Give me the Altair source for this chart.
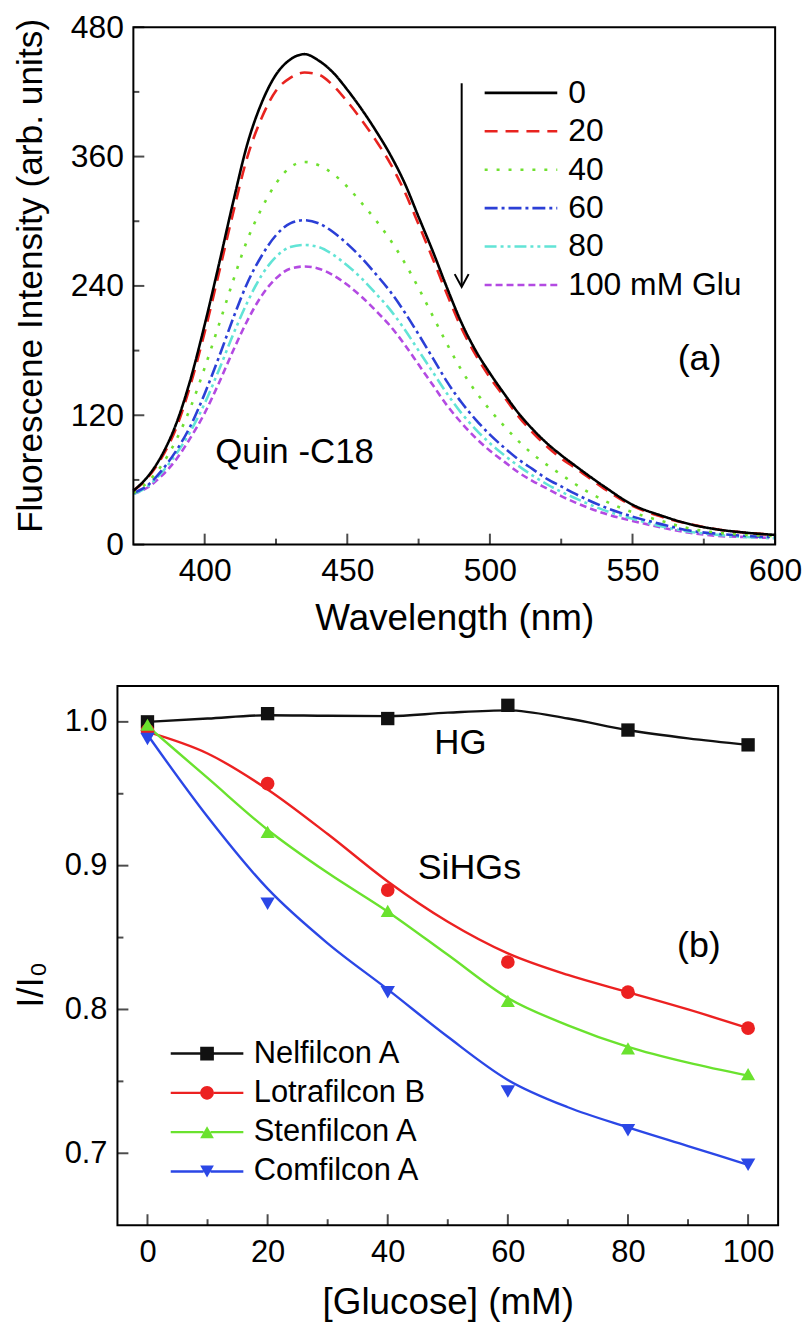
import altair as alt
import pandas as pd

FONT = "Liberation Sans"

# ===================== panel (a): emission spectra =====================
wavelength = [375, 380, 385, 390, 395, 400, 405, 410, 415, 420, 425, 430, 435,
              440, 445, 450, 455, 460, 465, 470, 475, 480, 485, 490, 495, 500,
              505, 510, 515, 520, 525, 530, 540, 550, 560, 570, 580, 590, 600]
glu_series = ["0", "20", "40", "60", "80", "100 mM Glu"]
intensity_0mM = [50, 63, 83, 112, 153, 204, 260, 318, 372, 410, 436, 450, 455,
                 449, 438, 422, 404, 384, 362, 336, 304, 272, 238, 206, 180, 159,
                 140, 122, 107, 94, 83, 73, 54, 37, 27, 19, 14, 11, 9]
intensity_20mM = [50, 62, 81, 108, 148, 197, 252, 308, 360, 396, 421, 433, 438,
                  436, 426, 411, 394, 375, 354, 328, 297, 265, 232, 201, 176, 155,
                  137, 119, 104, 91, 80, 71, 52, 36, 26, 19, 14, 11, 9]
intensity_40mM = [48, 58, 74, 97, 127, 164, 204, 245, 283, 312, 335, 350, 355,
                  352, 344, 332, 317, 301, 283, 262, 238, 212, 186, 162, 142, 125,
                  110, 96, 84, 74, 65, 56, 41, 30, 22, 15, 11, 9, 8]
intensity_60mM = [48, 55, 69, 87, 110, 140, 174, 210, 243, 268, 287, 298, 301,
                  298, 290, 279, 266, 251, 235, 216, 195, 173, 151, 132, 116, 102,
                  90, 79, 70, 61, 54, 47, 35, 26, 19, 13, 10, 8, 7]
intensity_80mM = [47, 54, 67, 84, 105, 131, 162, 195, 225, 250, 267, 276, 278,
                  276, 269, 259, 247, 233, 218, 200, 180, 160, 140, 122, 107, 94,
                  83, 73, 64, 56, 49, 43, 32, 24, 17, 12, 9, 7, 6]
intensity_100mM = [47, 53, 64, 79, 99, 122, 150, 180, 208, 231, 247, 256, 258,
                   256, 250, 241, 230, 217, 203, 186, 167, 148, 129, 113, 99, 87,
                   77, 67, 59, 52, 45, 39, 29, 22, 16, 11, 8, 7, 6]
glu_colors = ["#000000", "#e8231f", "#6fe030", "#2b3fd6", "#62e4d6", "#b34ae2"]
glu_dashes = [[1, 0], [13, 8], [3, 9], [13, 4, 3, 4], [12, 4, 3, 4, 3, 4], [7, 4]]

a_x_major = [400, 450, 500, 550, 600]
a_x_minor = [425, 475, 525, 575]
a_y_major = [0, 120, 240, 360, 480]
a_y_minor = [60, 180, 300, 420]

# ===================== panel (b): quenching ratio =====================
glucose_mM = [0, 20, 40, 60, 80, 100]
lens_series = ["Nelfilcon A", "Lotrafilcon B", "Stenfilcon A", "Comfilcon A"]
ratio_nelfilcon = [1.000, 1.0057, 1.0023, 1.0115, 0.9943, 0.9840]
ratio_lotrafilcon = [0.994, 0.957, 0.883, 0.833, 0.812, 0.787]
ratio_stenfilcon = [0.998, 0.9235, 0.8685, 0.806, 0.773, 0.755]
ratio_comfilcon = [0.988, 0.8735, 0.812, 0.743, 0.716, 0.692]

glucose_fit_mM = [0, 10, 20, 30, 40, 50, 60, 70, 80, 90, 100]
fit_nelfilcon = [1.000, 1.0023, 1.0046, 1.0042, 1.0040, 1.0064, 1.0080, 1.0023, 0.9943, 0.9885, 0.9840]
fit_lotrafilcon = [0.993, 0.978, 0.953, 0.922, 0.889, 0.861, 0.839, 0.824, 0.812, 0.800, 0.787]
fit_stenfilcon = [0.997, 0.961, 0.925, 0.895, 0.868, 0.838, 0.808, 0.789, 0.774, 0.763, 0.754]
fit_comfilcon = [0.991, 0.934, 0.884, 0.846, 0.814, 0.781, 0.751, 0.732, 0.718, 0.705, 0.692]
lens_colors = ["#111111", "#ec2121", "#6ae22e", "#2b47e6"]
lens_shapes = ["square", "circle", "triangle-up", "triangle-down"]
lens_sizes = [180, 210, 260, 260]

b_x_major = [0, 20, 40, 60, 80, 100]
b_x_minor = [10, 30, 50, 70, 90]
b_y_major = [0.7, 0.8, 0.9, 1.0]
b_y_minor = [0.75, 0.85, 0.95]

# ---------------- tables ----------------
spectra_rows = []
for name, vals in reversed(list(zip(glu_series, [intensity_0mM, intensity_20mM, intensity_40mM,
                                                   intensity_60mM, intensity_80mM, intensity_100mM]))):
    for w, v in zip(wavelength, vals):
        spectra_rows.append({"wl": w, "I": v, "glu": name})
spectra = pd.DataFrame(spectra_rows)

point_rows, fit_rows = [], []
for name, pts, fit in zip(lens_series,
                          [ratio_nelfilcon, ratio_lotrafilcon, ratio_stenfilcon, ratio_comfilcon],
                          [fit_nelfilcon, fit_lotrafilcon, fit_stenfilcon, fit_comfilcon]):
    for g, r in zip(glucose_mM, pts):
        point_rows.append({"g": g, "r": r, "lens": name})
    for g, r in zip(glucose_fit_mM, fit):
        fit_rows.append({"g": g, "r": r, "lens": name})
points = pd.DataFrame(point_rows)
fits = pd.DataFrame(fit_rows)
one = pd.DataFrame({"k": [0]})

# ---------------- axes ----------------
ax_xa = alt.Axis(values=a_x_major, title="Wavelength (nm)", ticks=False, domain=False, grid=False,
                 labelFontSize=32, titleFontSize=37, labelPadding=11, titlePadding=14,
                 labelFlush=False, labelOverlap=False)
ax_ya = alt.Axis(values=a_y_major, title="Fluorescene Intensity (arb. units)", ticks=False,
                 domain=False, grid=False, labelFontSize=32, titleFontSize=35.5, labelPadding=10,
                 labelFlush=False, labelOverlap=False, titleX=-92, titleY=249.5,
                 titleBaseline="alphabetic", titleAlign="center", titleAngle=270)
ax_xb = alt.Axis(values=b_x_major, title="[Glucose] (mM)", ticks=False, domain=False, grid=False,
                 labelFontSize=31, titleFontSize=37, labelPadding=12, titlePadding=18,
                 labelFlush=False, labelOverlap=False)
ax_yb = alt.Axis(values=b_y_major, format=".1f", title="I/I₀", ticks=False, domain=False,
                 grid=False, offset=16, labelFontSize=31, titleFontSize=37, labelPadding=10.5,
                 labelFlush=False, labelOverlap=False, titleX=-75.3, titleY=300,
                 titleBaseline="alphabetic", titleAlign="center", titleAngle=270)


def xticks(vals, y0, length, ax, ay):
    return alt.Chart(pd.DataFrame({"v": vals})).mark_tick(
        orient="vertical", size=length, thickness=2, color="black", yOffset=-length / 2
    ).encode(x=alt.X("v:Q", axis=ax), y=alt.YDatum(y0, axis=ay))


def yticks(vals, x0, length, ax, ay):
    return alt.Chart(pd.DataFrame({"v": vals})).mark_tick(
        orient="horizontal", size=length, thickness=2, color="black", xOffset=length / 2
    ).encode(y=alt.Y("v:Q", axis=ay), x=alt.XDatum(x0, axis=ax))


def frame(x0, x1, y0, y1, ax, ay):
    return alt.Chart(one).mark_rect(fillOpacity=0, stroke="black", strokeWidth=2).encode(
        x=alt.XDatum(x0, axis=ax), x2=alt.X2Datum(x1),
        y=alt.YDatum(y0, axis=ay), y2=alt.Y2Datum(y1))


def label(text, x, y, size, ax, ay):
    return alt.Chart(one).mark_text(font=FONT, fontSize=size, align="center",
                                    baseline="middle", color="black").encode(
        x=alt.XDatum(x, axis=ax), y=alt.YDatum(y, axis=ay), text=alt.value(text))


# ---------------- panel (a) ----------------
xa = alt.Scale(domain=[375, 600], nice=False, zero=False)
ya = alt.Scale(domain=[0, 480], nice=False, zero=False)

legend_a = alt.Legend(title=None, orient="none", legendX=396, legendY=50,
                      symbolType="M-4.2,0H1", symbolSize=788, symbolStrokeWidth=2.6,
                      labelFontSize=32, labelFont=FONT, labelColor="black",
                      labelOffset=9, rowPadding=6.6, padding=0, labelLimit=400)

lines_a = alt.Chart(spectra).mark_line(strokeWidth=2.6, interpolate="monotone").encode(
    x=alt.X("wl:Q", scale=xa, axis=ax_xa),
    y=alt.Y("I:Q", scale=ya, axis=ax_ya),
    color=alt.Color("glu:N", scale=alt.Scale(domain=glu_series, range=glu_colors), legend=legend_a),
    strokeDash=alt.StrokeDash("glu:N", scale=alt.Scale(domain=glu_series, range=glu_dashes),
                              legend=legend_a),
)

arrow_a = alt.Chart(one).mark_rule(strokeWidth=2, color="black").encode(
    x=alt.XDatum(490.1, axis=ax_xa), y=alt.YDatum(428, axis=ax_ya), y2=alt.Y2Datum(240))
arrow_head = alt.Chart(one).mark_point(shape="M-1,-1.85L0,0L1,-1.85", size=196, filled=False,
                                       color="black", strokeWidth=2, opacity=1).encode(
    x=alt.XDatum(490.1, axis=ax_xa), y=alt.YDatum(239, axis=ax_ya))

panel_a = alt.layer(
    lines_a,
    frame(375, 600, 0, 480, ax_xa, ax_ya),
    xticks(a_x_major, 0, 11, ax_xa, ax_ya), xticks(a_x_minor, 0, 6, ax_xa, ax_ya),
    yticks(a_y_major, 375, 11, ax_xa, ax_ya), yticks(a_y_minor, 375, 6, ax_xa, ax_ya),
    label("Quin -C18", 431.5, 86, 35, ax_xa, ax_ya),
    label("(a)", 573.5, 172.6, 36, ax_xa, ax_ya),
    arrow_a, arrow_head,
).properties(width=645, height=520)

# ---------------- panel (b) ----------------
xb = alt.Scale(domain=[-5, 105], range=[-16, 648], nice=False, zero=False)
yb = alt.Scale(domain=[0.65, 1.025], nice=False, zero=False)

s = 0.085
legend_paths = [
    f"M-4.2,-{s}H-2.09V{s}H-4.2Z M-1.11,-{s}H1V{s}H-1.11Z M-2.09,-0.49H-1.11V0.49H-2.09Z",
    f"M-4.2,-{s}H-2.09V{s}H-4.2Z M-1.11,-{s}H1V{s}H-1.11Z M-2.09,0A0.49,0.49 0 1,1 -1.11,0A0.49,0.49 0 1,1 -2.09,0Z",
    f"M-4.2,-{s}H-1.85V{s}H-4.2Z M-1.35,-{s}H1V{s}H-1.35Z M-1.6,-0.43L-1.11,0.43L-2.09,0.43Z",
    f"M-4.2,-{s}H-1.85V{s}H-4.2Z M-1.35,-{s}H1V{s}H-1.35Z M-1.6,0.43L-2.09,-0.43L-1.11,-0.43Z",
]
legend_b = alt.Legend(title=None, orient="none", legendX=81, legendY=354,
                      symbolSize=788, symbolStrokeWidth=0, symbolOpacity=1,
                      labelFontSize=31, labelFont=FONT, labelColor="black",
                      labelOffset=9, rowPadding=7.5, padding=0, labelLimit=400)
color_b = alt.Scale(domain=lens_series, range=lens_colors)

fit_lines = alt.Chart(fits).mark_line(strokeWidth=2.4, interpolate="monotone").encode(
    x=alt.X("g:Q", scale=xb, axis=ax_xb),
    y=alt.Y("r:Q", scale=yb, axis=ax_yb),
    color=alt.Color("lens:N", scale=color_b, legend=None),
)

markers = alt.Chart(points).mark_point(filled=True, opacity=1).encode(
    x=alt.X("g:Q", axis=ax_xb), y=alt.Y("r:Q", axis=ax_yb),
    color=alt.Color("lens:N", scale=color_b, legend=None),
    shape=alt.Shape("lens:N", scale=alt.Scale(domain=lens_series, range=lens_shapes), legend=None),
    size=alt.Size("lens:N", scale=alt.Scale(domain=lens_series, range=lens_sizes), legend=None),
)

legend_layer = alt.Chart(points).transform_filter("false").mark_point(filled=True, opacity=1).encode(
    color=alt.Color("lens:N", scale=color_b, legend=legend_b),
    shape=alt.Shape("lens:N", scale=alt.Scale(domain=lens_series, range=legend_paths), legend=legend_b),
)

panel_b = alt.layer(
    fit_lines,
    frame(-5, 105, 0.65, 1.025, ax_xb, ax_yb),
    markers,
    xticks(b_x_major, 0.65, 11, ax_xb, ax_yb), xticks(b_x_minor, 0.65, 6, ax_xb, ax_yb),
    yticks(b_y_major, -5, 11, ax_xb, ax_yb), yticks(b_y_minor, -5, 6, ax_xb, ax_yb),
    label("HG", 52.1, 0.9853, 35, ax_xb, ax_yb),
    label("SiHGs", 53.6, 0.898, 36, ax_xb, ax_yb),
    label("(b)", 91.8, 0.8443, 36, ax_xb, ax_yb),
    legend_layer,
).resolve_scale(color="independent", shape="independent", size="independent").properties(
    width=648, height=542)

chart = alt.vconcat(panel_a, panel_b, spacing=49).properties(
    padding={"left": 4, "top": 0, "right": 0, "bottom": 0}
).configure_view(
    stroke=None
).configure_axis(
    labelFont=FONT, titleFont=FONT, labelColor="black", titleColor="black",
    titleFontWeight="normal"
).configure_legend(labelFont=FONT)

chart.save("out.html", embed_options={"renderer": "svg", "actions": False})
